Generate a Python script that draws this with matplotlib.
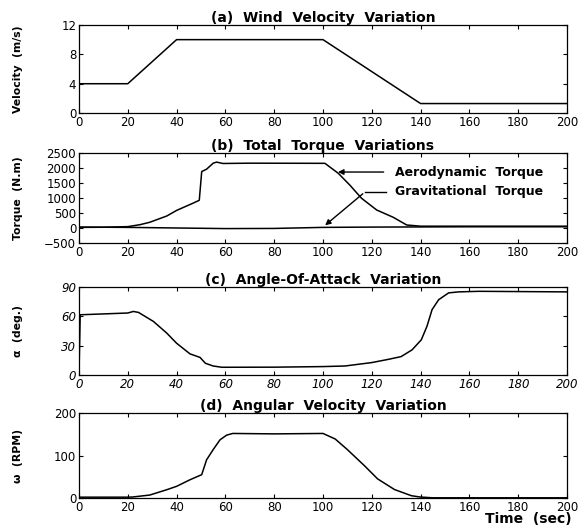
import numpy as np
import matplotlib.pyplot as plt

# Werte (Zeit in s)
t_wind = [0, 20, 40, 100, 140, 200]
v_wind = [4, 4, 10, 10, 1.3, 1.3]

t_aero = [0, 10, 20, 25, 29, 36, 40, 46.9, 49.3, 50.3, 52.3, 55, 56.4, 59, 70, 100.8,
          106.3, 111, 115.8, 122, 128.8, 134.3, 140, 200]
m_aero = [20, 25, 45, 110, 190, 400, 585, 833, 923, 1880, 1960, 2160, 2196, 2150, 2160, 2155,
          1820, 1430, 990, 600, 356, 100, 60, 60]

t_grav = [0, 20, 40, 60, 80, 100, 120, 140, 160, 180, 200]
m_grav = [30, 20, 0, -20, -15, 20, 30, 35, 40, 40, 40]

t_alpha = [0, 0.5, 20, 22.3, 24.4, 30.5, 36, 40, 45.5, 49.6, 51.8, 55, 58.6, 80, 100, 109,
           120, 126.8, 132, 136.5, 140.3, 142.6, 144.7, 147.4, 151.5, 155.6, 164, 200]
alpha = [0, 61.6, 63.4, 65, 64, 54.8, 42.8, 32.5, 21.6, 18, 12, 9.2, 7.9, 8, 8.6, 9.2,
         12.7, 16, 18.8, 25.7, 36, 49.7, 66.8, 77, 84, 85, 85.6, 85]

t_omega = [0, 20, 22, 29, 36, 40, 45.5, 50.3, 52.3, 55, 57.8, 60.5, 63, 80, 100, 105, 110,
           117, 122.4, 129.3, 136.2, 139.7, 145, 200]
omega = [2, 2, 2.4, 7, 19.6, 27.5, 43, 55, 90, 114, 137, 148, 152, 151, 152, 139, 114,
         76, 45, 20, 5.5, 2.4, 0.5, 0.5]

xticks = np.arange(0, 201, 20)

plt.rcParams['font.family'] = ['DejaVu Sans']
fig = plt.figure(figsize=(5.82, 5.31), dpi=100)

# Achsenpositionen (links, unten, Breite, Höhe) in Bildanteilen
boxes = [[0.1357, 0.787, 0.8385, 0.166],
         [0.1357, 0.5424, 0.8385, 0.1695],
         [0.1357, 0.2938, 0.8385, 0.1657],
         [0.1357, 0.0621, 0.8385, 0.160]]
axes = [fig.add_axes(b) for b in boxes]


def style(ax, title, ylabel, yticks, italic=False):
    ax.set_xlim(0, 200)
    ax.set_xticks(xticks)
    ax.set_ylim(yticks[0], yticks[-1])
    ax.set_yticks(yticks)
    ax.tick_params(direction="in", top=True, right=True, length=3, width=0.8,
                   labelsize=8.5, pad=2)
    if italic:
        for lab in ax.get_xticklabels() + ax.get_yticklabels():
            lab.set_style("italic")
    for s in ax.spines.values():
        s.set_linewidth(0.9)
    ax.set_title(title, fontsize=10, fontweight="bold", pad=2)
    ax.set_ylabel(ylabel, fontsize=7.8, fontweight="bold")
    ax.yaxis.set_label_coords(-0.115, 0.5)


# (a) Windgeschwindigkeit
ax = axes[0]
ax.plot(t_wind, v_wind, "-", color="black", lw=1.1)
style(ax, "(a)  Wind  Velocity  Variation", "Velocity  (m/s)", [0, 4, 8, 12])

# (b) Drehmomente
ax = axes[1]
ax.plot(t_aero, m_aero, "-", color="black", lw=1.1)
ax.plot(t_grav, m_grav, "-", color="black", lw=1.1)
style(ax, "(b)  Total  Torque  Variations", "Torque  (N.m)",
      [-500, 0, 500, 1000, 1500, 2000, 2500])
ax.annotate("", xy=(105, 1865), xytext=(126, 1865),
            arrowprops=dict(arrowstyle="-|>", color="black", lw=1.0, mutation_scale=8))
ax.text(129.5, 1865, "Aerodynamic  Torque", fontsize=9, fontweight="bold", va="center")
ax.plot([126, 117.2], [1200, 1200], "-", color="black", lw=1.0)
ax.annotate("", xy=(100, 30), xytext=(117.2, 1200),
            arrowprops=dict(arrowstyle="-|>", color="black", lw=1.0, mutation_scale=8))
ax.text(129.5, 1200, "Gravitational  Torque", fontsize=9, fontweight="bold", va="center")

# (c) Anstellwinkel
ax = axes[2]
ax.plot(t_alpha, alpha, "-", color="black", lw=1.1)
style(ax, "(c)  Angle-Of-Attack  Variation", "α  (deg.)", [0, 30, 60, 90], italic=True)

# (d) Winkelgeschwindigkeit
ax = axes[3]
ax.plot(t_omega, omega, "-", color="black", lw=1.1)
style(ax, "(d)  Angular  Velocity  Variation", "ω  (RPM)", [0, 100, 200])
ax.set_xlabel("Time  (sec)", fontsize=10, fontweight="bold")
ax.xaxis.set_label_coords(1.01, -0.17)
ax.xaxis.label.set_ha("right")

plt.savefig("out.png", dpi=100)
plt.close()
